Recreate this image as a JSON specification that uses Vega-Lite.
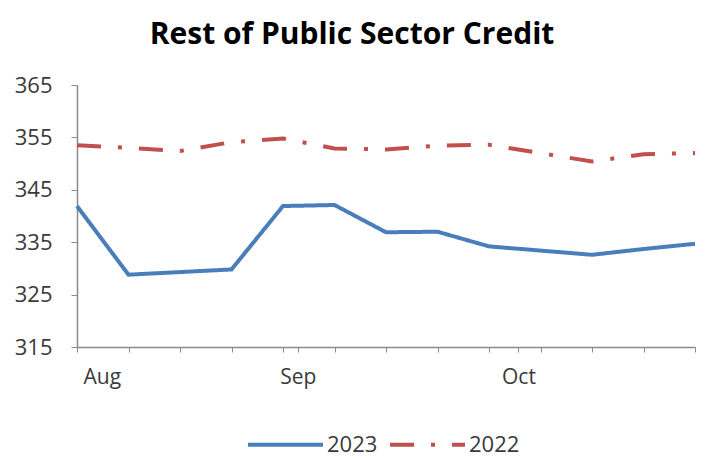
{
  "$schema": "https://vega.github.io/schema/vega-lite/v6.json",
  "width": 618,
  "height": 262,
  "autosize": {"type": "none"},
  "padding": {"left": 77, "top": 85, "right": 16, "bottom": 113},
  "background": "white",
  "config": {"view": {"stroke": null}, "font": "Open Sans"},
  "title": {"text": "Rest of Public Sector Credit", "fontSize": 30, "fontWeight": "bold", "color": "#000000", "anchor": "middle", "dx": -34, "offset": 24, "font": "Open Sans"},
  "data": {
    "format": {"parse": {"date": "date:'%Y-%m-%d'"}},
    "values": [
      {"date": "2023-08-04", "year": "2023", "value": 341.9},
      {"date": "2023-08-11", "year": "2023", "value": 328.8},
      {"date": "2023-08-18", "year": "2023", "value": 329.3},
      {"date": "2023-08-25", "year": "2023", "value": 329.8},
      {"date": "2023-09-01", "year": "2023", "value": 341.9},
      {"date": "2023-09-08", "year": "2023", "value": 342.1},
      {"date": "2023-09-15", "year": "2023", "value": 336.9},
      {"date": "2023-09-22", "year": "2023", "value": 337.0},
      {"date": "2023-09-29", "year": "2023", "value": 334.2},
      {"date": "2023-10-06", "year": "2023", "value": 333.4},
      {"date": "2023-10-13", "year": "2023", "value": 332.6},
      {"date": "2023-10-20", "year": "2023", "value": 333.7},
      {"date": "2023-10-27", "year": "2023", "value": 334.7},
      {"date": "2023-08-04", "year": "2022", "value": 353.5},
      {"date": "2023-08-11", "year": "2022", "value": 353.0},
      {"date": "2023-08-18", "year": "2022", "value": 352.4},
      {"date": "2023-08-25", "year": "2022", "value": 354.1},
      {"date": "2023-09-01", "year": "2022", "value": 354.8},
      {"date": "2023-09-08", "year": "2022", "value": 352.9},
      {"date": "2023-09-15", "year": "2022", "value": 352.7},
      {"date": "2023-09-22", "year": "2022", "value": 353.4},
      {"date": "2023-09-29", "year": "2022", "value": 353.6},
      {"date": "2023-10-06", "year": "2022", "value": 352.0},
      {"date": "2023-10-13", "year": "2022", "value": 350.4},
      {"date": "2023-10-20", "year": "2022", "value": 351.8},
      {"date": "2023-10-27", "year": "2022", "value": 352.0}
    ]
  },
  "mark": {"type": "line", "strokeWidth": 4, "strokeCap": "butt"},
  "encoding": {
    "x": {
      "field": "date",
      "type": "temporal",
      "scale": {"domain": [{"year": 2023, "month": 8, "date": 4}, {"year": 2023, "month": 10, "date": 27}]},
      "axis": {
        "title": null,
        "grid": false,
        "values": [
          {"year": 2023, "month": 8, "date": 4},
          {"year": 2023, "month": 8, "date": 11},
          {"year": 2023, "month": 8, "date": 18},
          {"year": 2023, "month": 8, "date": 25},
          {"year": 2023, "month": 9, "date": 1},
          {"year": 2023, "month": 9, "date": 3},
          {"year": 2023, "month": 9, "date": 8},
          {"year": 2023, "month": 9, "date": 15},
          {"year": 2023, "month": 9, "date": 22},
          {"year": 2023, "month": 9, "date": 29},
          {"year": 2023, "month": 10, "date": 3},
          {"year": 2023, "month": 10, "date": 6},
          {"year": 2023, "month": 10, "date": 13},
          {"year": 2023, "month": 10, "date": 20},
          {"year": 2023, "month": 10, "date": 27}
        ],
        "labelExpr": "(month(datum.value)==7 && date(datum.value)==4) ? 'Aug' : ((month(datum.value)==8 && date(datum.value)==3) ? 'Sep' : ((month(datum.value)==9 && date(datum.value)==3) ? 'Oct' : ''))",
        "labelOverlap": false,
        "labelFlush": true,
        "labelFlushOffset": -6,
        "labelFontSize": 21,
        "labelColor": "#3a3a3a",
        "labelPadding": 14,
        "tickSize": 5,
        "tickColor": "#8a8a8a",
        "domainColor": "#8a8a8a",
        "domainWidth": 1.5
      }
    },
    "y": {
      "field": "value",
      "type": "quantitative",
      "scale": {"domain": [315, 365], "nice": false, "zero": false},
      "axis": {
        "title": null,
        "grid": false,
        "values": [315, 325, 335, 345, 355, 365],
        "labelFontSize": 22,
        "labelColor": "#3a3a3a",
        "labelPadding": 19,
        "tickSize": 6,
        "tickColor": "#8a8a8a",
        "domainColor": "#8a8a8a",
        "domainWidth": 1.5
      }
    },
    "color": {
      "field": "year",
      "type": "nominal",
      "scale": {"domain": ["2023", "2022"], "range": ["#4a7ebb", "#c0504d"]},
      "legend": {
        "title": null,
        "orient": "none",
        "direction": "horizontal",
        "legendX": 169,
        "legendY": 320,
        "symbolType": "stroke",
        "symbolSize": 5625,
        "symbolStrokeWidth": 4,
        "labelFontSize": 22,
        "labelColor": "#3a3a3a",
        "labelOffset": 2,
        "columnPadding": 4,
        "padding": 0
      }
    },
    "strokeDash": {
      "field": "year",
      "type": "nominal",
      "scale": {"domain": ["2023", "2022"], "range": [[1, 0], [24, 17, 4, 17]]},
      "legend": {
        "title": null,
        "orient": "none",
        "direction": "horizontal",
        "legendX": 169,
        "legendY": 320,
        "symbolType": "stroke",
        "symbolSize": 5625,
        "symbolStrokeWidth": 4,
        "labelFontSize": 22,
        "labelColor": "#3a3a3a",
        "labelOffset": 2,
        "columnPadding": 4,
        "padding": 0
      }
    }
  }
}
